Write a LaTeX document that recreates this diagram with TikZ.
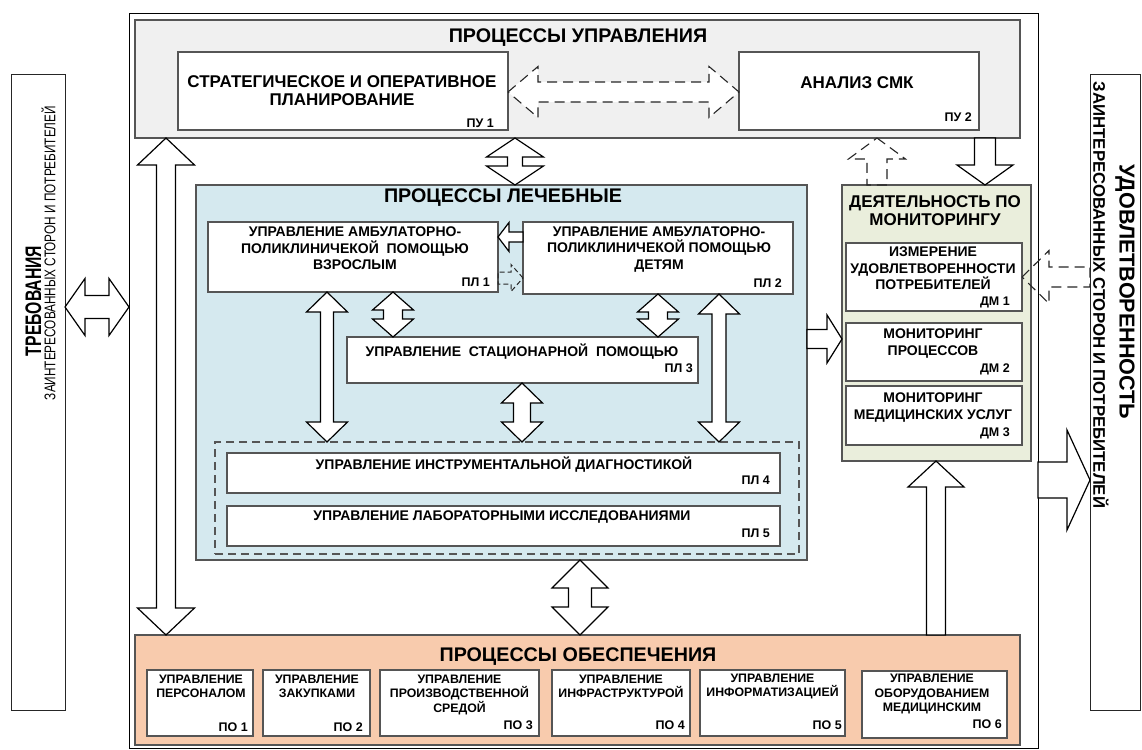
\documentclass[tikz,border=0pt]{standalone}
\usepackage{fontspec}
\setmainfont{Liberation Sans}
\usepackage{graphicx}
\usetikzlibrary{calc}
\definecolor{mgrey}{HTML}{F0F0F0}
\definecolor{mblue}{HTML}{D5E9EF}
\definecolor{mgreen}{HTML}{EAEEDC}
\definecolor{morange}{HTML}{F8CBAD}
\definecolor{edge}{HTML}{555555}
\newcommand\fs[2]{\fontsize{#1}{#2}\selectfont}
\newcommand\bx[6]{%
  \pgfmathsetmacro\bw{#5-#3}\pgfmathsetmacro\bh{#6-#4}%
  \node[#2, anchor=north west, minimum width=\bw pt, minimum height=\bh pt, inner sep=0pt, outer sep=0pt] (#1) at (#3,#4) {};}
% vertical double arrow: top point, bottom point, head half width, head length, shaft half width
\newcommand\vdouble[6][barrow]{%
  \path[#1] let \p1=#2, \p2=#3 in (\x1,\y1) -- (\x1+#4pt,\y1-#5pt) -- (\x1+#6pt,\y1-#5pt) -- (\x1+#6pt,\y2+#5pt) -- (\x1+#4pt,\y2+#5pt) -- (\x1,\y2) -- (\x1-#4pt,\y2+#5pt) -- (\x1-#6pt,\y2+#5pt) -- (\x1-#6pt,\y1-#5pt) -- (\x1-#4pt,\y1-#5pt) -- cycle;}
\newcommand\vup[6][barrow]{%
  \path[#1] let \p1=#2, \p2=#3 in (\x1,\y1) -- (\x1+#4pt,\y1-#5pt) -- (\x1+#6pt,\y1-#5pt) -- (\x1+#6pt,\y2) -- (\x1-#6pt,\y2) -- (\x1-#6pt,\y1-#5pt) -- (\x1-#4pt,\y1-#5pt) -- cycle;}
\newcommand\vdown[6][barrow]{%
  \path[#1] let \p1=#2, \p2=#3 in (\x1,\y2) -- (\x1+#4pt,\y2+#5pt) -- (\x1+#6pt,\y2+#5pt) -- (\x1+#6pt,\y1) -- (\x1-#6pt,\y1) -- (\x1-#6pt,\y2+#5pt) -- (\x1-#4pt,\y2+#5pt) -- cycle;}
% horizontal: left point, right point, head half height, head length, shaft half height
\newcommand\hdouble[6][barrow]{%
  \path[#1] let \p1=#2, \p2=#3 in (\x1,\y1) -- (\x1+#5pt,\y1+#4pt) -- (\x1+#5pt,\y1+#6pt) -- (\x2-#5pt,\y1+#6pt) -- (\x2-#5pt,\y1+#4pt) -- (\x2,\y1) -- (\x2-#5pt,\y1-#4pt) -- (\x2-#5pt,\y1-#6pt) -- (\x1+#5pt,\y1-#6pt) -- (\x1+#5pt,\y1-#4pt) -- cycle;}
\newcommand\hright[6][barrow]{%
  \path[#1] let \p1=#2, \p2=#3 in (\x2,\y1) -- (\x2-#5pt,\y1+#4pt) -- (\x2-#5pt,\y1+#6pt) -- (\x1,\y1+#6pt) -- (\x1,\y1-#6pt) -- (\x2-#5pt,\y1-#6pt) -- (\x2-#5pt,\y1-#4pt) -- cycle;}
\newcommand\hleft[6][barrow]{%
  \path[#1] let \p1=#2, \p2=#3 in (\x1,\y1) -- (\x1+#5pt,\y1+#4pt) -- (\x1+#5pt,\y1+#6pt) -- (\x2,\y1+#6pt) -- (\x2,\y1-#6pt) -- (\x1+#5pt,\y1-#6pt) -- (\x1+#5pt,\y1-#4pt) -- cycle;}
\tikzset{
  frm/.style={draw=black, line width=0.9pt, fill=white},
  sidebox/.style={draw=black!85, line width=1pt, fill=white},
  container/.style={draw=edge, line width=1.2pt},
  subbox/.style={draw=edge, fill=white, line width=1.4pt},
  grpbox/.style={draw=edge, line width=1.1pt, dash pattern=on 8pt off 5pt},
  barrow/.style={draw=black, fill=white, line width=1.2pt, line join=miter},
  darrow/.style={draw=black!85, line width=1.1pt, dash pattern=on 10pt off 6pt},
  darrowfill/.style={darrow, fill=white},
  darrowsmall/.style={draw=black!85, line width=1pt, dash pattern=on 5pt off 3pt},
  title/.style={font=\bfseries\fs{19.7}{22}, inner sep=0pt},
  bigtext/.style={font=\bfseries\fs{17}{18}, align=center, inner sep=0pt},
  boxtext/.style={font=\bfseries\fs{14}{16.5}, align=center, inner sep=0pt},
  potext/.style={font=\bfseries\fs{12.3}{14.5}, align=center, inner sep=0pt},
  tag/.style={font=\bfseries\fs{12.5}{14}, inner sep=0pt, anchor=east},
}
\begin{document}
\begin{tikzpicture}[x=1pt,y=-1pt]
\useasboundingbox (0,0) rectangle (1142,749);
\fill[white] (0,0) rectangle (1142,749);
% frames
\bx{frame}{frm}{129}{13}{1038}{748}
\bx{req}{sidebox}{11}{75}{65}{710}
\bx{sat}{sidebox}{1090}{75}{1140}{710}
% containers
\bx{pu}{container, fill=mgrey}{135}{20}{1020}{138}
\bx{pl}{container, fill=mblue}{196}{185}{807}{560}
\bx{dm}{container, fill=mgreen}{842}{185}{1031}{461}
\bx{po}{container, fill=morange}{135}{635}{1020}{745}
% sub boxes
\bx{pu1}{subbox}{178}{52}{508}{130}
\bx{pu2}{subbox}{739}{52}{979}{130}
\bx{pl1}{subbox}{208}{222}{498}{292}
\bx{pl2}{subbox}{523}{222}{793}{294}
\bx{pl3}{subbox}{347}{337}{698}{383}
\bx{grp}{grpbox}{215}{442}{799}{554}
\bx{pl4}{subbox}{227}{453}{780}{493}
\bx{pl5}{subbox}{227}{506}{780}{546}
\bx{dm1}{subbox}{846}{243}{1022}{311}
\bx{dm2}{subbox}{846}{323}{1022}{381}
\bx{dm3}{subbox}{846}{386}{1022}{445}
\bx{po1}{subbox}{147}{670}{253}{736}
\bx{po2}{subbox}{263}{670}{370}{736}
\bx{po3}{subbox}{380}{670}{539}{736}
\bx{po4}{subbox}{552}{670}{690}{736}
\bx{po5}{subbox}{700}{670}{845}{736}
\bx{po6}{subbox}{862}{671}{1007}{738}
% arrows
\hdouble{(req.east |- 0,307)}{(frame.west |- 0,307)}{28.5}{20}{11.5}
\hdouble[darrowfill]{(pu1.east |- 0,92)}{(pu2.west |- 0,92)}{25.5}{30}{10}
\vdouble{(pu.south -| 515,0)}{(pl.north -| 515,0)}{28.5}{19}{7.5}
\vdouble{(pu.south -| 166,0)}{(po.north -| 166,0)}{28.5}{27}{9.5}
\hleft{(pl1.east |- 0,237)}{(pl2.west |- 0,237)}{14.5}{11}{5}
\hright[darrowsmall]{(pl1.east |- 0,278)}{(pl2.west |- 0,278)}{13.5}{12}{6}
\vdouble{(pl1.south -| 393,0)}{(pl3.north -| 393,0)}{20.5}{18}{9.5}
\vdouble{(pl2.south -| 658,0)}{(pl3.north -| 658,0)}{20.5}{18}{9.5}
\vdouble{(pl1.south -| 327,0)}{(grp.north -| 327,0)}{20.5}{20}{6.5}
\vdouble{(pl2.south -| 719,0)}{(grp.north -| 719,0)}{20.5}{20}{7}
\vdouble{(pl3.south -| 522,0)}{(grp.north -| 522,0)}{20.5}{20}{8.5}
\vdouble{(pl.south -| 580,0)}{(po.north -| 580,0)}{28}{28}{11.5}
\hright{(pl.east |- 0,339)}{(dm.west |- 0,339)}{24}{15}{9.5}
\vdown{(pu.south -| 985,0)}{(dm.north -| 985,0)}{28}{20}{10.5}
\vup[darrow]{(pu.south -| 877,0)}{(dm.north -| 877,0)}{28.5}{21}{10}
\vup{(dm.south -| 936,0)}{(po.north -| 936,0)}{28}{26}{9.5}
\hright{(frame.east |- 0,480)}{(sat.west |- 0,480)}{50}{23}{18}
\hleft[darrow]{(dm1.east |- 0,277)}{(sat.west |- 0,277)}{26.5}{27}{10}
% side texts
\node[rotate=90, inner sep=0pt] (reqT) at (33.5,301) {\scalebox{0.7}[1]{\bfseries\fs{22.5}{24}ТРЕБОВАНИЯ}};
\node[rotate=90, inner sep=0pt] (reqS) at (48.5,253) {\scalebox{0.76}[1]{\fs{15.5}{17}ЗАИНТЕРЕСОВАННЫХ СТОРОН И ПОТРЕБИТЕЛЕЙ}};
\node[rotate=-90, inner sep=0pt] (satT) at (1125,292) {\bfseries\fs{21.6}{24}УДОВЛЕТВОРЕННОСТЬ};
\node[rotate=-90, inner sep=0pt] (satS) at (1101,295) {\bfseries\fs{16.8}{18}ЗАИНТЕРЕСОВАННЫХ СТОРОН И ПОТРЕБИТЕЛЕЙ};
% titles
\node[title] (puT) at (578,38) {ПРОЦЕССЫ УПРАВЛЕНИЯ};
\node[title] (plT) at (503,198) {ПРОЦЕССЫ ЛЕЧЕБНЫЕ};
\node[title] (poT) at (578,657) {ПРОЦЕССЫ ОБЕСПЕЧЕНИЯ};
\node[bigtext] (dmT) at (935,211) {ДЕЯТЕЛЬНОСТЬ ПО\\МОНИТОРИНГУ};
% management texts
\node[bigtext] (pu1T) at (342,91) {СТРАТЕГИЧЕСКОЕ И ОПЕРАТИВНОЕ\\ПЛАНИРОВАНИЕ};
\node[bigtext] (pu2T) at (857,83) {АНАЛИЗ СМК};
\node[tag] (pu1L) at (494,123) {ПУ 1};
\node[tag] (pu2L) at (972,117) {ПУ 2};
% medical texts
\node[boxtext] (pl1T) at (355,248.5) {УПРАВЛЕНИЕ АМБУЛАТОРНО-\\ПОЛИКЛИНИЧЕКОЙ\ \ ПОМОЩЬЮ\\ВЗРОСЛЫМ};
\node[boxtext] (pl2T) at (659,249.5) {УПРАВЛЕНИЕ АМБУЛАТОРНО-\\ПОЛИКЛИНИЧЕКОЙ ПОМОЩЬЮ\\ДЕТЯМ};
\node[boxtext] (pl3T) at (522,352) {УПРАВЛЕНИЕ\ \ СТАЦИОНАРНОЙ\ \ ПОМОЩЬЮ};
\node[boxtext] (pl4T) at (504,465) {УПРАВЛЕНИЕ ИНСТРУМЕНТАЛЬНОЙ ДИАГНОСТИКОЙ};
\node[boxtext] (pl5T) at (502,517) {УПРАВЛЕНИЕ ЛАБОРАТОРНЫМИ ИССЛЕДОВАНИЯМИ};
\node[tag] (pl1L) at (490,282) {ПЛ 1};
\node[tag] (pl2L) at (782,283) {ПЛ 2};
\node[tag] (pl3L) at (693,368) {ПЛ 3};
\node[tag] (pl4L) at (770,480) {ПЛ 4};
\node[tag] (pl5L) at (770,533) {ПЛ 5};
% monitoring texts
\node[boxtext] (dm1T) at (933,268.5) {ИЗМЕРЕНИЕ\\УДОВЛЕТВОРЕННОСТИ\\ПОТРЕБИТЕЛЕЙ};
\node[boxtext] (dm2T) at (933,343.5) {МОНИТОРИНГ\\ПРОЦЕССОВ};
\node[boxtext] (dm3T) at (933,407.5) {МОНИТОРИНГ\\МЕДИЦИНСКИХ УСЛУГ};
\node[tag] (dm1L) at (1010,302) {ДМ 1};
\node[tag] (dm2L) at (1010,369) {ДМ 2};
\node[tag] (dm3L) at (1010,433) {ДМ 3};
% support texts
\node[potext] (po1T) at (201,686.5) {УПРАВЛЕНИЕ\\ПЕРСОНАЛОМ};
\node[potext] (po2T) at (317,686.5) {УПРАВЛЕНИЕ\\ЗАКУПКАМИ};
\node[potext] (po3T) at (459.5,694.5) {УПРАВЛЕНИЕ\\ПРОИЗВОДСТВЕННОЙ\\СРЕДОЙ};
\node[potext] (po4T) at (621,686.5) {УПРАВЛЕНИЕ\\ИНФРАСТРУКТУРОЙ};
\node[potext] (po5T) at (772.5,686.5) {УПРАВЛЕНИЕ\\ИНФОРМАТИЗАЦИЕЙ};
\node[potext] (po6T) at (932,694) {УПРАВЛЕНИЕ\\ОБОРУДОВАНИЕМ\\МЕДИЦИНСКИМ};
\node[tag] (po1L) at (248,727) {ПО 1};
\node[tag] (po2L) at (363,727) {ПО 2};
\node[tag] (po3L) at (533,725) {ПО 3};
\node[tag] (po4L) at (685,725) {ПО 4};
\node[tag] (po5L) at (842,725) {ПО 5};
\node[tag] (po6L) at (1002,724) {ПО 6};
\end{tikzpicture}
\end{document}
